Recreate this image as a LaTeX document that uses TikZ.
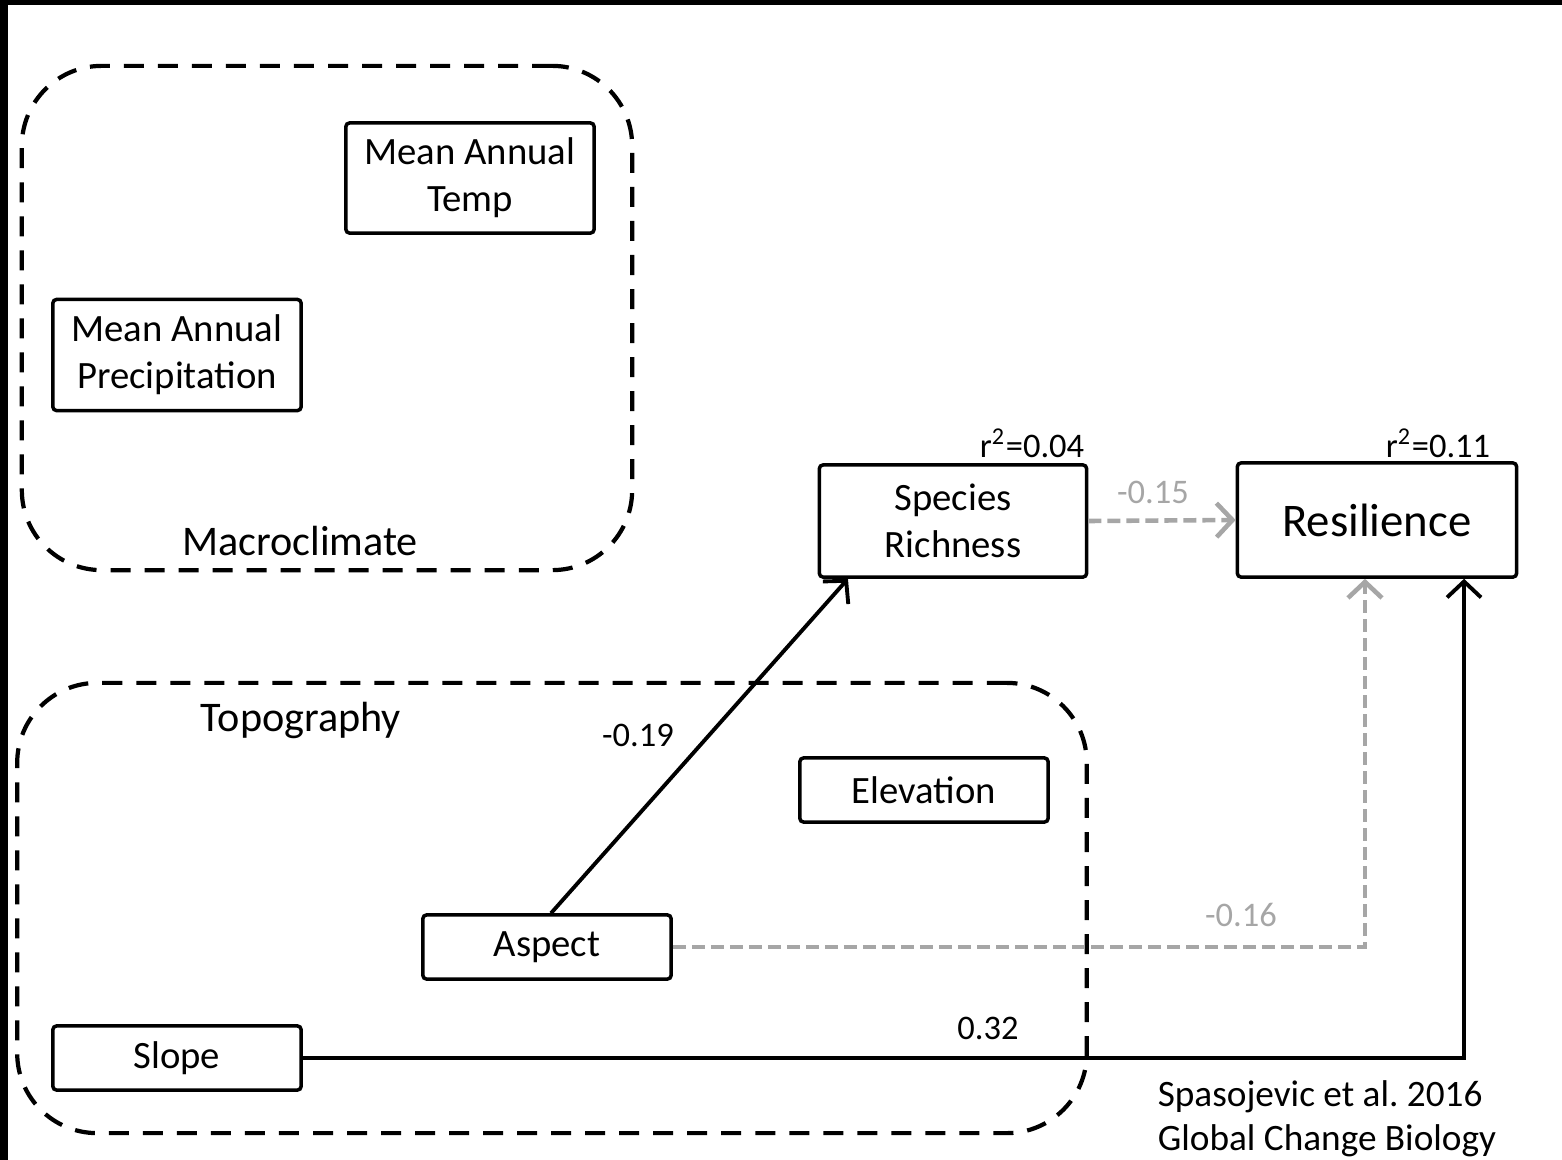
\documentclass[tikz,border=0pt]{standalone}
\usepackage{fontspec}
\setmainfont{Carlito}
\usepackage{xcolor}
\usetikzlibrary{positioning, arrows.meta}
\definecolor{pathgray}{HTML}{A6A6A6}

\begin{document}
\frenchspacing
\begin{tikzpicture}[
      x=0.01cm, y=-0.01cm,
      block/.style={
        draw,
        rectangle,
        rounded corners=1pt,
        align=center,
        minimum width=2.48cm,
        minimum height=0.64cm,
        inner sep=0pt,
        line width=1pt,
        font=\fontsize{11}{13.4}\selectfont
      },
      group/.style={draw, dash pattern=on 0.2cm off 0.14cm, line width=1.2pt, rounded corners=0.8cm},
      grouplabel/.style={font=\fontsize{12}{14}\selectfont},
      coef/.style={font=\fontsize{9.8}{12}\selectfont},
      arrow/.style={-{Straight Barb[length=1.6mm,width=3.4mm]}, line width=1.1pt},
      weak/.style={arrow, draw=pathgray, dash pattern=on 0.13cm off 0.06cm, line width=1.3pt}
    ]
    \useasboundingbox (0,0) rectangle (1562,1160);
    \fill (0,0) rectangle (1562,5);
    \fill (0,0) rectangle (8,1160);

    % Groups
    \node [group, minimum width=6.1cm, minimum height=5.04cm] (macro) at (327,318) {};
    \node [grouplabel] (macrolabel) at (300,541) {Macroclimate};
    \node [group, minimum width=10.69cm, minimum height=4.5cm] (topo) at (552,908) {};
    \node [grouplabel] (topolabel) at (301,720) {Topography};

    % Place nodes
    \node [block, minimum height=1.1cm] (temp) at (470,178) {Mean Annual\\Temp};
    \node [block, minimum height=1.11cm] (precip) at (177,355) {Mean Annual\\Precipitation};
    \node [block, minimum width=2.67cm, minimum height=1.12cm] (rich) at (953,521) {Species\\Richness};
    \node [block, minimum width=2.79cm, minimum height=1.14cm, font=\fontsize{13.3}{16}\selectfont] (res) at (1377,520) {Resilience};
    \node [block] (elev) at (924,790) {Elevation};
    \node [block] (aspect) at (547,947) {Aspect};
    \node [block] (slope) at (177,1058) {Slope};

    % r squared
    \node [coef] (r2rich) at (1032,443) {r\textsuperscript{2}=0.04};
    \node [coef] (r2res) at (1438,443) {r\textsuperscript{2}=0.11};

    % Draw paths
    \draw [arrow] ([xshift=0.04cm]aspect.north) -- ([xshift=-1.05cm]rich.south);
    \draw [weak] (rich.east) -- (res.west);
    \draw [weak] (aspect.east) -| ([xshift=-0.12cm]res.south);
    \draw [arrow] (slope.east) -| ([xshift=0.87cm]res.south);

    % Coefficients
    \node [coef] (c1) at (638,735) {-0.19};
    \node [coef, text=pathgray] (c2) at (1153,492) {-0.15};
    \node [coef, text=pathgray] (c3) at (1241,915) {-0.16};
    \node [coef] (c4) at (988,1028) {0.32};

    \node [align=left, font=\fontsize{10.6}{12.5}\selectfont] (cite) at (1327,1119) {Spasojevic et al. 2016\\Global Change Biology};
  \end{tikzpicture}
\end{document}
